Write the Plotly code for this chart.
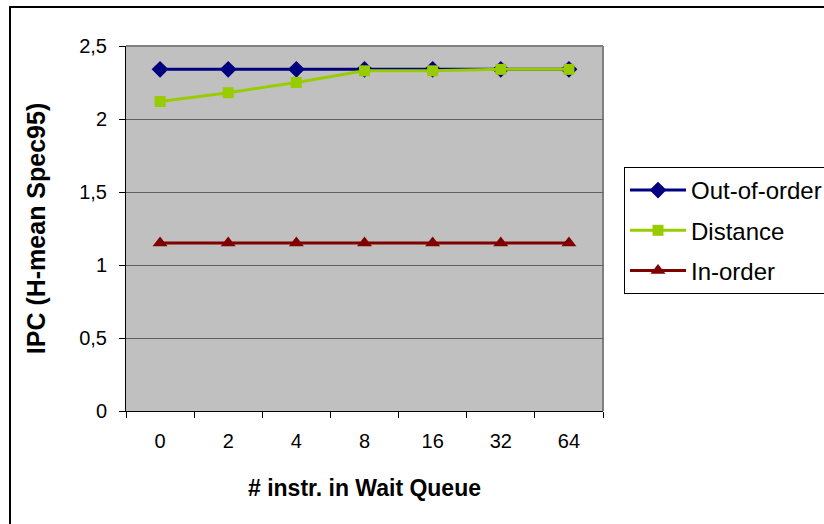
import plotly.graph_objects as go

categories = ["0", "2", "4", "8", "16", "32", "64"]
out_of_order = [2.34, 2.34, 2.34, 2.34, 2.34, 2.34, 2.34]
distance = [2.12, 2.18, 2.25, 2.33, 2.33, 2.34, 2.34]
in_order = [1.15, 1.15, 1.15, 1.15, 1.15, 1.15, 1.15]
y_ticks = [0, 0.5, 1, 1.5, 2, 2.5]
y_tick_labels = ["0", "0,5", "1", "1,5", "2", "2,5"]

FONT = "Liberation Sans, Arial, sans-serif"

fig = go.Figure()
fig.add_trace(go.Scatter(x=categories, y=out_of_order, name="Out-of-order", mode="lines+markers",
                         line=dict(color="#000080", width=3),
                         marker=dict(symbol="diamond", size=13, color="#000080"),
                         legendgroup="a"))
fig.add_trace(go.Scatter(x=categories, y=distance, name="Distance", mode="lines+markers",
                         line=dict(color="#99CC00", width=3),
                         marker=dict(symbol="square", size=11, color="#99CC00"),
                         legendgroup="b"))
fig.add_trace(go.Scatter(x=categories, y=in_order, name="In-order", mode="lines+markers",
                         line=dict(color="#800000", width=3),
                         marker=dict(symbol="triangle-up", size=13, color="#800000"),
                         legendgroup="c"))

W, H = 824, 524
L, R, T, B = 126, 603, 46, 411
pw, ph = R - L, B - T

def px(x):
    return (x - L) / pw

def py(y):
    return (B - y) / ph

fig.update_layout(
    width=W, height=H,
    margin=dict(l=L, r=W - R, t=T, b=H - B, pad=0, autoexpand=False),
    paper_bgcolor="white",
    plot_bgcolor="#C0C0C0",
    font=dict(family=FONT, color="black", size=20),
    showlegend=True,
    legend=dict(x=px(624), y=py(167), xanchor="left", yanchor="top",
                bordercolor="black", borderwidth=1, bgcolor="white",
                font=dict(size=24, family=FONT), itemwidth=56,
                tracegroupgap=6),
    xaxis=dict(type="category", tickson="boundaries", ticks="outside", ticklen=6,
               tickcolor="black", showline=True, linecolor="black", linewidth=1,
               showgrid=False, tickfont=dict(size=20), ticklabelstandoff=12,
               title=dict(text="<b># instr. in Wait Queue</b>", font=dict(size=23), standoff=28),
               range=[-0.5, 6.5], automargin=False),
    yaxis=dict(range=[0, 2.5], tickvals=y_ticks, ticktext=y_tick_labels, ticks="outside",
               ticklen=6, tickcolor="black", showline=True, linecolor="black", linewidth=1,
               showgrid=True, gridcolor="#606060", gridwidth=1, zeroline=False,
               tickfont=dict(size=20), ticklabelstandoff=8,
               title=dict(text="<b>IPC (H-mean Spec95)</b>", font=dict(size=25), standoff=26),
               automargin=False),
    shapes=[
        dict(type="line", xref="paper", yref="paper", x0=0, x1=1, y0=1, y1=1,
             line=dict(color="#808080", width=2), layer="below"),
        dict(type="line", xref="paper", yref="paper", x0=1, x1=1, y0=0, y1=1,
             line=dict(color="#808080", width=2), layer="below"),
        dict(type="rect", xref="paper", yref="paper", x0=px(10), x1=px(840), y0=py(540), y1=py(7),
             line=dict(color="black", width=2), fillcolor="rgba(0,0,0,0)"),
    ],
)

fig.write_html("out.html")
